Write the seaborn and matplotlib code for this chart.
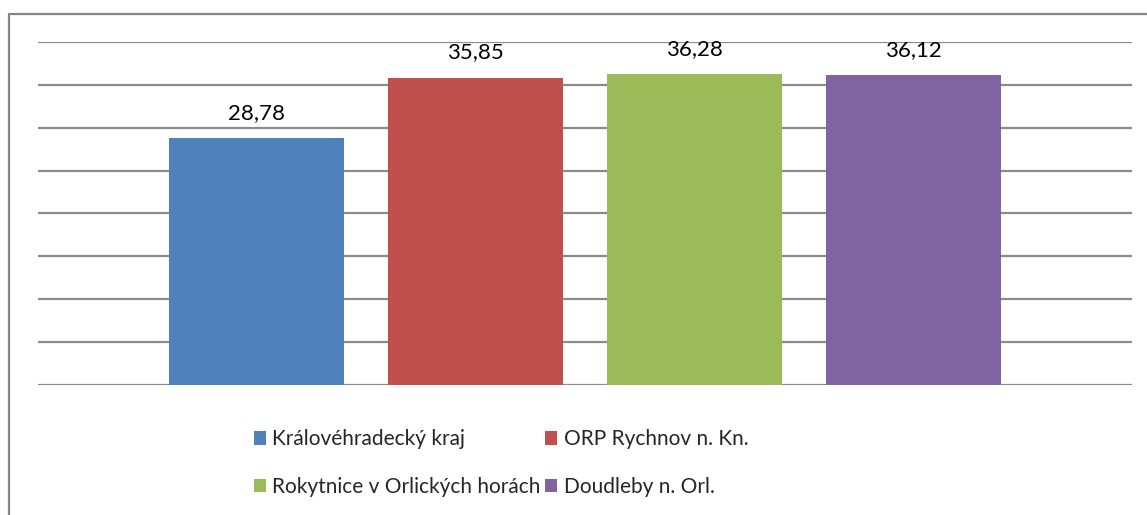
import matplotlib
matplotlib.use("Agg")
import matplotlib.pyplot as plt
import seaborn as sns
import pandas as pd
from matplotlib.patches import Patch
from matplotlib.lines import Line2D

series = ["Královéhradecký kraj", "ORP Rychnov n. Kn.",
          "Rokytnice v Orlických horách", "Doudleby n. Orl."]
values = [28.78, 35.85, 36.28, 36.12]
labels = ["28,78", "35,85", "36,28", "36,12"]
colors = ["#4F81BD", "#C0504D", "#9BBB59", "#8064A2"]

sns.set_theme(style="white")
plt.rcParams["font.family"] = ["Lato", "DejaVu Sans"]

df = pd.DataFrame({"series": series, "value": values})

fig = plt.figure(figsize=(11.47, 5.15), dpi=100)
ax = fig.add_axes([38 / 1147, 1 - 385 / 515, (1132 - 38) / 1147, (385 - 42) / 515])

sns.barplot(data=df, x="series", y="value", hue="series", order=series,
            hue_order=series, palette=colors, width=0.8, saturation=1,
            legend=False, ax=ax, edgecolor="none", linewidth=0)

ax.set_xlim(-1.0, 4.0)
ax.set_ylim(0, 40)
ax.set_yticks(range(0, 41, 5))
ax.yaxis.grid(True, color="#8a8a8a", linewidth=1.6)
ax.set_axisbelow(True)
for s in ax.spines.values():
    s.set_visible(False)
ax.set_xticks([])
ax.set_yticklabels([])
ax.tick_params(left=False, bottom=False)
ax.set_xlabel("")
ax.set_ylabel("")

# value labels
allpatches = [p for c in ax.containers for p in c]
for p, lab in zip(sorted(allpatches, key=lambda r: r.get_x()), labels):
    ax.annotate(lab, (p.get_x() + p.get_width() / 2, p.get_height()),
                xytext=(0, 11), textcoords="offset points",
                ha="center", va="bottom", fontsize=16, color="#000000")

handles = [Patch(facecolor=c, edgecolor="none") for c in colors]
order = [0, 2, 1, 3]
leg = fig.legend([handles[i] for i in order], [series[i] for i in order],
                 ncol=2, loc="center", bbox_to_anchor=(501 / 1147, 1 - 463 / 515),
                 frameon=False, fontsize=15, handlelength=0.6, handleheight=0.6,
                 handletextpad=0.3, columnspacing=0.2, labelspacing=1.3)

# figure frame (top and left)
fig.add_artist(Line2D([8.5 / 1147, 1.0], [1 - 13.5 / 515, 1 - 13.5 / 515],
                      color="#868686", linewidth=1.6, transform=fig.transFigure))
fig.add_artist(Line2D([8.5 / 1147, 8.5 / 1147], [0, 1 - 13.5 / 515],
                      color="#868686", linewidth=1.6, transform=fig.transFigure))

fig.savefig("out.png", dpi=100, facecolor="white")
